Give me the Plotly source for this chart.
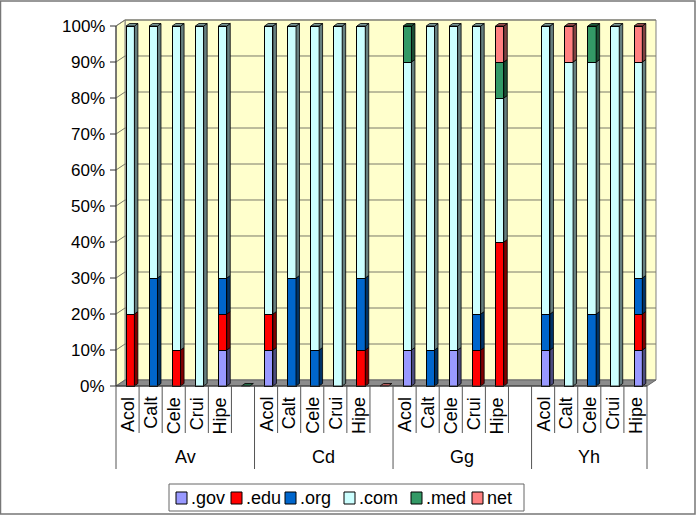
import plotly.graph_objects as go

# ---------------- data ----------------
groups = ["Av", "Cd", "Gg", "Yh"]
subs = ["Acol", "Calt", "Cele", "Crui", "Hipe"]
series_names = [".gov", ".edu", ".org", ".com", ".med", "net"]
gov = [0, 0, 0, 0, 10,   10, 0, 0, 0, 0,    10, 0, 10, 0, 0,    10, 0, 0, 0, 10]
edu = [20, 0, 10, 0, 10,  10, 0, 0, 0, 10,   0, 0, 0, 10, 40,    0, 0, 0, 0, 10]
org = [0, 30, 0, 0, 10,   0, 30, 10, 0, 20,  0, 10, 0, 10, 0,    10, 0, 20, 0, 10]
com = [80, 70, 90, 100, 70, 80, 70, 90, 100, 70, 80, 90, 90, 80, 40, 80, 90, 70, 100, 60]
med = [0, 0, 0, 0, 0,     0, 0, 0, 0, 0,     10, 0, 0, 0, 10,    0, 0, 10, 0, 0]
net = [0, 0, 0, 0, 0,     0, 0, 0, 0, 0,     0, 0, 0, 0, 10,     0, 10, 0, 0, 10]
y_ticks = [0, 10, 20, 30, 40, 50, 60, 70, 80, 90, 100]
y_tick_text = ["0%", "10%", "20%", "30%", "40%", "50%", "60%", "70%", "80%", "90%", "100%"]
colors = ["#9999FF", "#FF0000", "#0066CC", "#CCFFFF", "#339966", "#FF8080"]
gap_caps = {5: "#339966", 11: "#FF8080"}  # flat empty-slot markers

series = [gov, edu, org, com, med, net]
slots_per_group = len(subs) + 1
n_slots = len(groups) * slots_per_group - 1
xs = [g * slots_per_group + s for g in range(len(groups)) for s in range(len(subs))]

# ---------------- geometry ----------------
W, H = 699, 520
PL, PR, PT, PB = 106, 666, 14, 392      # plot-area pixel box
X0, X1 = 116, 647                        # front category axis ends
Y0, Y100 = 386, 26                       # front value axis
S = (X1 - X0) / n_slots
P = (Y0 - Y100) / 100.0
DX, DY = 9, 6                            # wall depth (px)
BDX, BDY = 3.5, 2.5                      # bar depth (px)
bw = 8.3 / S
bshift = 2.7 / S
bdx = BDX / S
bdy = BDY / P

def xp(px):
    return (px - PL) / (PR - PL)

def yp(py):
    return (PB - py) / (PB - PT)

def d2px(x):
    return X0 + (x + 0.5) * S

def v2py(v):
    return Y0 - v * P

def dark(hexc, f):
    h = hexc.lstrip("#")
    r, g, b = int(h[0:2], 16), int(h[2:4], 16), int(h[4:6], 16)
    return "rgb(%d,%d,%d)" % (r * f, g * f, b * f)

def ppath(pts):
    return "M " + " L ".join("%.5f %.5f" % (xp(a), yp(b)) for a, b in pts) + " Z"

FONT = "Liberation Sans, Arial, sans-serif"
shapes = []
annotations = []

# outer border
shapes.append(dict(type="rect", xref="paper", yref="paper", x0=xp(0.5), x1=xp(695), y0=yp(514), y1=yp(1),
                   line=dict(color="#777777", width=1.5), layer="below"))
# back wall
shapes.append(dict(type="path", xref="paper", yref="paper",
                   path=ppath([(X0 + DX, Y0 - DY), (X1 + DX, Y0 - DY), (X1 + DX, Y100 - DY), (X0 + DX, Y100 - DY)]),
                   fillcolor="#FFFFCC", line=dict(color="#808080", width=1), layer="below"))
# left side wall
shapes.append(dict(type="path", xref="paper", yref="paper",
                   path=ppath([(X0, Y0), (X0 + DX, Y0 - DY), (X0 + DX, Y100 - DY), (X0, Y100)]),
                   fillcolor="#FFFFCC", line=dict(color="#808080", width=1), layer="below"))
# floor
shapes.append(dict(type="path", xref="paper", yref="paper",
                   path=ppath([(X0, Y0), (X1, Y0), (X1 + DX, Y0 - DY), (X0 + DX, Y0 - DY)]),
                   fillcolor="#8c8c8c", line=dict(color="#666666", width=1), layer="below"))
# gridlines
for v in y_ticks[1:]:
    py = v2py(v)
    shapes.append(dict(type="path", xref="paper", yref="paper",
                       path="M %.5f %.5f L %.5f %.5f L %.5f %.5f" % (xp(X0), yp(py), xp(X0 + DX), yp(py - DY), xp(X1 + DX), yp(py - DY)),
                       line=dict(color="#7a7a6a", width=1), layer="below"))
# value axis line + ticks + labels
shapes.append(dict(type="line", xref="paper", yref="paper", x0=xp(X0), x1=xp(X0), y0=yp(Y0), y1=yp(Y100),
                   line=dict(color="#333333", width=1)))
for v, t in zip(y_ticks, y_tick_text):
    py = v2py(v)
    shapes.append(dict(type="line", xref="paper", yref="paper", x0=xp(X0 - 6), x1=xp(X0), y0=yp(py), y1=yp(py),
                       line=dict(color="#333333", width=1)))
    annotations.append(dict(xref="paper", yref="paper", x=xp(107), y=yp(py), text=t, showarrow=False,
                            xanchor="right", yanchor="middle", font=dict(family=FONT, size=17, color="black")))
# category axis line
shapes.append(dict(type="line", xref="paper", yref="paper", x0=xp(X0), x1=xp(X1), y0=yp(Y0), y1=yp(Y0),
                   line=dict(color="#333333", width=1)))
group_edges = [g * slots_per_group for g in range(len(groups))] + [n_slots]
for k in range(n_slots + 1):
    px = X0 + k * S
    bottom = 469 if k in group_edges else 433
    shapes.append(dict(type="line", xref="paper", yref="paper", x0=xp(px), x1=xp(px), y0=yp(Y0), y1=yp(bottom),
                       line=dict(color="#555555", width=1)))
for i, x in enumerate(xs):
    annotations.append(dict(xref="paper", yref="paper", x=xp(d2px(x)), y=yp(395), text=subs[i % len(subs)],
                            textangle=-90, showarrow=False, xanchor="center", yanchor="top",
                            font=dict(family=FONT, size=18, color="black")))
for g, name in enumerate(groups):
    a = group_edges[g]
    b = group_edges[g + 1]
    annotations.append(dict(xref="paper", yref="paper", x=xp(X0 + (a + b) / 2 * S), y=yp(457), text=name,
                            showarrow=False, xanchor="center", yanchor="middle",
                            font=dict(family=FONT, size=18, color="black")))

# legend (drawn)
shapes.append(dict(type="rect", xref="paper", yref="paper", x0=xp(169), x1=xp(524), y0=yp(511), y1=yp(484),
                   line=dict(color="#666666", width=1), fillcolor="white"))
leg_left = [176, 231, 285, 344, 411, 472]
for name, c, lx in zip(series_names, colors, leg_left):
    shapes.append(dict(type="rect", xref="paper", yref="paper", x0=xp(lx), x1=xp(lx + 11), y0=yp(504), y1=yp(492),
                       line=dict(color="black", width=1), fillcolor=c))
    annotations.append(dict(xref="paper", yref="paper", x=xp(lx + 12.5), y=yp(498), text=name, showarrow=False,
                            xanchor="left", yanchor="middle", font=dict(family=FONT, size=18, color="black")))

# ---------------- bars ----------------
fig = go.Figure()
for vals, c in zip(series, colors):
    fig.add_trace(go.Bar(x=xs, y=[v if v else None for v in vals], width=bw, offset=-bw / 2 + bshift,
                         marker=dict(color=c, line=dict(color="black", width=1)),
                         showlegend=False, hoverinfo="skip"))

cum = [0] * len(xs)
tops = [max(j for j in range(len(series)) if series[j][i]) for i in range(len(xs))]
for j, (vals, c) in enumerate(zip(series, colors)):
    sx, sy, tx, ty = [], [], [], []
    for i, x in enumerate(xs):
        v = vals[i]
        if not v:
            continue
        y0, y1 = cum[i], cum[i] + v
        xl = x - bw / 2 + bshift
        xr = xl + bw
        sx += [xr, xr + bdx, xr + bdx, xr, xr, None]
        sy += [y0, y0 + bdy, y1 + bdy, y1, y0, None]
        if tops[i] == j:
            tx += [xl, xl + bdx, xr + bdx, xr, xl, None]
            ty += [y1, y1 + bdy, y1 + bdy, y1, y1, None]
        cum[i] = y1
    fig.add_trace(go.Scatter(x=sx, y=sy, mode="lines", fill="toself", fillcolor=dark(c, 0.5),
                             line=dict(color="black", width=0.8), showlegend=False, hoverinfo="skip"))
    if tx:
        fig.add_trace(go.Scatter(x=tx, y=ty, mode="lines", fill="toself", fillcolor=dark(c, 0.6),
                                 line=dict(color="black", width=0.8), showlegend=False, hoverinfo="skip"))
for slot, c in gap_caps.items():
    xl = slot - bw / 2 + bshift
    xr = xl + bw
    fig.add_trace(go.Scatter(x=[xl, xl + bdx, xr + bdx, xr, xl], y=[0, bdy, bdy, 0, 0], mode="lines",
                             fill="toself", fillcolor=dark(c, 0.7), line=dict(color="black", width=0.8),
                             showlegend=False, hoverinfo="skip"))

fig.update_layout(
    width=W, height=H, autosize=False,
    margin=dict(l=PL, r=W - PR, t=PT, b=H - PB, pad=0),
    paper_bgcolor="white", plot_bgcolor="rgba(0,0,0,0)",
    barmode="stack", showlegend=False,
    xaxis=dict(range=[(PL - X0) / S - 0.5, (PR - X0) / S - 0.5], visible=False, fixedrange=True),
    yaxis=dict(range=[(Y0 - PB) / P, (Y0 - PT) / P], visible=False, fixedrange=True),
    shapes=shapes, annotations=annotations,
)
fig.write_html("out.html")
